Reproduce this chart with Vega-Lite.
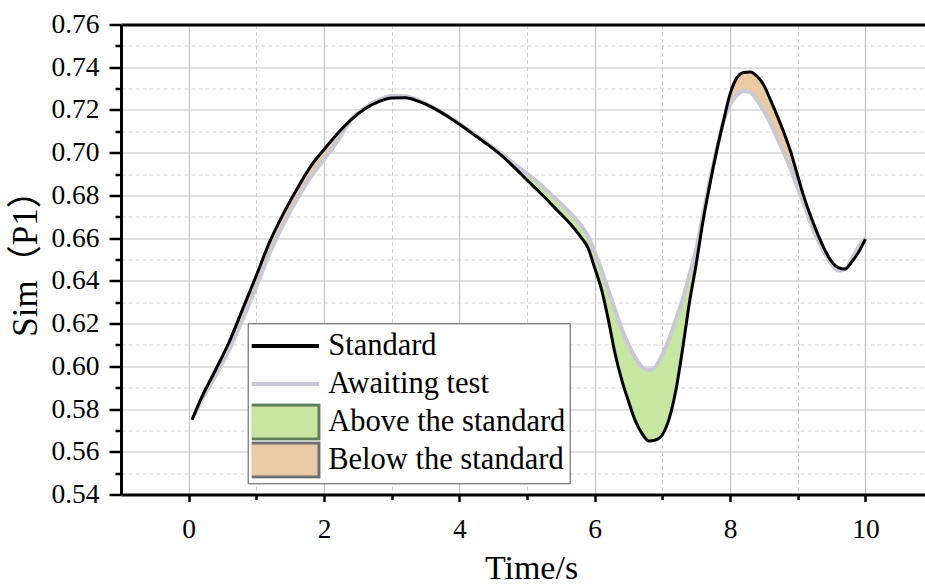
{
  "$schema": "https://vega.github.io/schema/vega-lite/v6.json",
  "width": 804,
  "height": 470,
  "autosize": {"type": "none"},
  "padding": {"left": 121, "top": 24.5, "right": 0, "bottom": 90.5},
  "background": "white",
  "config": {
    "view": {"stroke": null},
    "axis": {
      "labelFont": "Liberation Serif",
      "titleFont": "Liberation Serif",
      "labelColor": "#000",
      "titleColor": "#000",
      "titleFontWeight": "normal",
      "tickColor": "#000",
      "domainColor": "#000",
      "tickWidth": 2.5,
      "domainWidth": 3,
      "labelOverlap": false,
      "labelFlush": false
    },
    "legend": {
      "orient": "none",
      "legendX": 126.7,
      "legendY": 298.8,
      "labelFont": "Liberation Serif",
      "labelFontSize": 30.5,
      "labelColor": "#000",
      "labelLimit": 600,
      "symbolSize": 900,
      "symbolStrokeWidth": 3,
      "symbolOffset": 17.5,
      "labelOffset": 28.5,
      "rowPadding": 0,
      "clipHeight": 37.4,
      "padding": 4,
      "fillColor": "#ffffff",
      "strokeColor": "#555555"
    }
  },
  "data": {
    "values": [
      {"t": 0.05, "Standard": 0.575, "Awaiting test": 0.575, "region": "Below the standard", "seg": "b1"},
      {"t": 0.2, "Standard": 0.586, "Awaiting test": 0.5845, "region": "Below the standard", "seg": "b1"},
      {"t": 0.4, "Standard": 0.5985, "Awaiting test": 0.5958, "region": "Below the standard", "seg": "b1"},
      {"t": 0.6, "Standard": 0.6115, "Awaiting test": 0.6078, "region": "Below the standard", "seg": "b1"},
      {"t": 0.8, "Standard": 0.627, "Awaiting test": 0.6222, "region": "Below the standard", "seg": "b1"},
      {"t": 1.0, "Standard": 0.6425, "Awaiting test": 0.6373, "region": "Below the standard", "seg": "b1"},
      {"t": 1.2, "Standard": 0.6585, "Awaiting test": 0.6532, "region": "Below the standard", "seg": "b1"},
      {"t": 1.4, "Standard": 0.6715, "Awaiting test": 0.6665, "region": "Below the standard", "seg": "b1"},
      {"t": 1.6, "Standard": 0.683, "Awaiting test": 0.6782, "region": "Below the standard", "seg": "b1"},
      {"t": 1.8, "Standard": 0.6935, "Awaiting test": 0.6885, "region": "Below the standard", "seg": "b1"},
      {"t": 2.0, "Standard": 0.7015, "Awaiting test": 0.6968, "region": "Below the standard", "seg": "b1"},
      {"t": 2.2, "Standard": 0.709, "Awaiting test": 0.7055, "region": "Below the standard", "seg": "b1"},
      {"t": 2.4, "Standard": 0.7155, "Awaiting test": 0.7155, "region": "Below the standard", "seg": "b1"},
      {"t": 2.4, "Standard": 0.7155, "Awaiting test": 0.7155, "region": "Above the standard", "seg": "a1", "dup": 1},
      {"t": 2.6, "Standard": 0.7205, "Awaiting test": 0.7208, "region": "Above the standard", "seg": "a1"},
      {"t": 2.8, "Standard": 0.7238, "Awaiting test": 0.7246, "region": "Above the standard", "seg": "a1"},
      {"t": 3.0, "Standard": 0.7256, "Awaiting test": 0.7265, "region": "Above the standard", "seg": "a1"},
      {"t": 3.2, "Standard": 0.7257, "Awaiting test": 0.7264, "region": "Above the standard", "seg": "a1"},
      {"t": 3.4, "Standard": 0.724, "Awaiting test": 0.7245, "region": "Above the standard", "seg": "a1"},
      {"t": 3.6, "Standard": 0.7212, "Awaiting test": 0.7214, "region": "Above the standard", "seg": "a1"},
      {"t": 3.8, "Standard": 0.7175, "Awaiting test": 0.7177, "region": "Above the standard", "seg": "a1"},
      {"t": 4.0, "Standard": 0.7133, "Awaiting test": 0.7136, "region": "Above the standard", "seg": "a1"},
      {"t": 4.2, "Standard": 0.7088, "Awaiting test": 0.7092, "region": "Above the standard", "seg": "a1"},
      {"t": 4.4, "Standard": 0.7042, "Awaiting test": 0.7047, "region": "Above the standard", "seg": "a1"},
      {"t": 4.6, "Standard": 0.6993, "Awaiting test": 0.7, "region": "Above the standard", "seg": "a1"},
      {"t": 4.8, "Standard": 0.6935, "Awaiting test": 0.695, "region": "Above the standard", "seg": "a1"},
      {"t": 5.0, "Standard": 0.6872, "Awaiting test": 0.6902, "region": "Above the standard", "seg": "a1"},
      {"t": 5.2, "Standard": 0.681, "Awaiting test": 0.685, "region": "Above the standard", "seg": "a1"},
      {"t": 5.4, "Standard": 0.6745, "Awaiting test": 0.679, "region": "Above the standard", "seg": "a1"},
      {"t": 5.6, "Standard": 0.668, "Awaiting test": 0.673, "region": "Above the standard", "seg": "a1"},
      {"t": 5.8, "Standard": 0.6603, "Awaiting test": 0.6658, "region": "Above the standard", "seg": "a1"},
      {"t": 5.9, "Standard": 0.6555, "Awaiting test": 0.6612, "region": "Above the standard", "seg": "a1"},
      {"t": 6.0, "Standard": 0.646, "Awaiting test": 0.6535, "region": "Above the standard", "seg": "a1"},
      {"t": 6.1, "Standard": 0.636, "Awaiting test": 0.645, "region": "Above the standard", "seg": "a1"},
      {"t": 6.2, "Standard": 0.622, "Awaiting test": 0.6358, "region": "Above the standard", "seg": "a1"},
      {"t": 6.3, "Standard": 0.606, "Awaiting test": 0.6265, "region": "Above the standard", "seg": "a1"},
      {"t": 6.4, "Standard": 0.5935, "Awaiting test": 0.6175, "region": "Above the standard", "seg": "a1"},
      {"t": 6.5, "Standard": 0.5835, "Awaiting test": 0.61, "region": "Above the standard", "seg": "a1"},
      {"t": 6.6, "Standard": 0.5745, "Awaiting test": 0.604, "region": "Above the standard", "seg": "a1"},
      {"t": 6.7, "Standard": 0.5685, "Awaiting test": 0.5997, "region": "Above the standard", "seg": "a1"},
      {"t": 6.8, "Standard": 0.565, "Awaiting test": 0.5983, "region": "Above the standard", "seg": "a1"},
      {"t": 6.9, "Standard": 0.5655, "Awaiting test": 0.6, "region": "Above the standard", "seg": "a1"},
      {"t": 7.0, "Standard": 0.568, "Awaiting test": 0.6055, "region": "Above the standard", "seg": "a1"},
      {"t": 7.1, "Standard": 0.5755, "Awaiting test": 0.613, "region": "Above the standard", "seg": "a1"},
      {"t": 7.2, "Standard": 0.589, "Awaiting test": 0.622, "region": "Above the standard", "seg": "a1"},
      {"t": 7.3, "Standard": 0.6085, "Awaiting test": 0.6315, "region": "Above the standard", "seg": "a1"},
      {"t": 7.4, "Standard": 0.63, "Awaiting test": 0.643, "region": "Above the standard", "seg": "a1"},
      {"t": 7.5, "Standard": 0.648, "Awaiting test": 0.655, "region": "Above the standard", "seg": "a1"},
      {"t": 7.6, "Standard": 0.668, "Awaiting test": 0.671, "region": "Above the standard", "seg": "a1"},
      {"t": 7.7, "Standard": 0.685, "Awaiting test": 0.687, "region": "Above the standard", "seg": "a1"},
      {"t": 7.8, "Standard": 0.7005, "Awaiting test": 0.7012, "region": "Above the standard", "seg": "a1"},
      {"t": 7.9, "Standard": 0.7145, "Awaiting test": 0.7145, "region": "Above the standard", "seg": "a1"},
      {"t": 7.9, "Standard": 0.7145, "Awaiting test": 0.7145, "region": "Below the standard", "seg": "b2", "dup": 1},
      {"t": 8.0, "Standard": 0.7275, "Awaiting test": 0.7225, "region": "Below the standard", "seg": "b2"},
      {"t": 8.1, "Standard": 0.735, "Awaiting test": 0.727, "region": "Below the standard", "seg": "b2"},
      {"t": 8.2, "Standard": 0.7375, "Awaiting test": 0.7287, "region": "Below the standard", "seg": "b2"},
      {"t": 8.3, "Standard": 0.7378, "Awaiting test": 0.7283, "region": "Below the standard", "seg": "b2"},
      {"t": 8.4, "Standard": 0.7358, "Awaiting test": 0.7245, "region": "Below the standard", "seg": "b2"},
      {"t": 8.5, "Standard": 0.7315, "Awaiting test": 0.7195, "region": "Below the standard", "seg": "b2"},
      {"t": 8.6, "Standard": 0.7245, "Awaiting test": 0.7135, "region": "Below the standard", "seg": "b2"},
      {"t": 8.7, "Standard": 0.717, "Awaiting test": 0.7065, "region": "Below the standard", "seg": "b2"},
      {"t": 8.8, "Standard": 0.709, "Awaiting test": 0.6995, "region": "Below the standard", "seg": "b2"},
      {"t": 8.9, "Standard": 0.7, "Awaiting test": 0.692, "region": "Below the standard", "seg": "b2"},
      {"t": 9.0, "Standard": 0.689, "Awaiting test": 0.6835, "region": "Below the standard", "seg": "b2"},
      {"t": 9.1, "Standard": 0.6785, "Awaiting test": 0.675, "region": "Below the standard", "seg": "b2"},
      {"t": 9.2, "Standard": 0.6695, "Awaiting test": 0.666, "region": "Below the standard", "seg": "b2"},
      {"t": 9.3, "Standard": 0.6615, "Awaiting test": 0.659, "region": "Below the standard", "seg": "b2"},
      {"t": 9.4, "Standard": 0.6545, "Awaiting test": 0.6528, "region": "Below the standard", "seg": "b2"},
      {"t": 9.5, "Standard": 0.649, "Awaiting test": 0.6478, "region": "Below the standard", "seg": "b2"},
      {"t": 9.6, "Standard": 0.6462, "Awaiting test": 0.6448, "region": "Below the standard", "seg": "b2"},
      {"t": 9.7, "Standard": 0.6455, "Awaiting test": 0.6455, "region": "Below the standard", "seg": "b2"},
      {"t": 9.7, "Standard": 0.6455, "Awaiting test": 0.6455, "region": "Above the standard", "seg": "a2", "dup": 1},
      {"t": 9.8, "Standard": 0.649, "Awaiting test": 0.6505, "region": "Above the standard", "seg": "a2"},
      {"t": 9.9, "Standard": 0.6535, "Awaiting test": 0.656, "region": "Above the standard", "seg": "a2"},
      {"t": 10.0, "Standard": 0.6595, "Awaiting test": 0.66, "region": "Above the standard", "seg": "a2"}
    ]
  },
  "resolve": {"axis": {"x": "independent", "y": "independent"}},
  "layer": [
    {
      "mark": {"type": "area", "interpolate": "monotone", "opacity": 1},
      "encoding": {
        "x": {
          "field": "t", "type": "quantitative",
          "scale": {"domain": [-1, 10.88], "nice": false, "zero": false},
          "axis": {"orient": "bottom", "values": [1, 3, 5, 7, 9], "labels": false, "title": null, "domain": false, "tickSize": 5, "grid": true, "gridColor": "#cfcfcf", "gridDash": [4, 3], "gridWidth": 1}
        },
        "y": {
          "field": "Standard", "type": "quantitative", "stack": null,
          "scale": {"domain": [0.54, 0.76], "nice": false, "zero": false},
          "axis": {"orient": "left", "values": [0.55, 0.57, 0.59, 0.61, 0.63, 0.65, 0.67, 0.69, 0.71, 0.73, 0.75], "labels": false, "title": null, "domain": false, "tickSize": 6, "grid": true, "gridColor": "#cfcfcf", "gridDash": [4, 3], "gridWidth": 1}
        },
        "y2": {"field": "Awaiting test"},
        "detail": {"field": "seg"},
        "fill": {
          "field": "region", "type": "nominal",
          "scale": {"domain": ["Above the standard", "Below the standard"], "range": ["#c6e6a2", "#e8caa4"]},
          "legend": null
        }
      }
    },
    {
      "transform": [{"filter": "!datum.dup"}],
      "mark": {"type": "line", "interpolate": "monotone", "strokeWidth": 4},
      "encoding": {
        "x": {
          "field": "t", "type": "quantitative",
          "axis": {"orient": "bottom", "values": [0, 2, 4, 6, 8, 10], "format": "d", "labelFontSize": 27.5, "labelBaseline": "alphabetic", "labelPadding": 36, "tickSize": 7, "grid": true, "gridColor": "#c2c2c2", "gridWidth": 1.2, "title": "Time/s", "titleFontSize": 34, "titleX": 410, "titleY": 84, "titleBaseline": "alphabetic", "titleAlign": "center"}
        },
        "y": {
          "field": "Awaiting test", "type": "quantitative",
          "axis": {"orient": "left", "values": [0.54, 0.56, 0.58, 0.6, 0.62, 0.64, 0.66, 0.68, 0.7, 0.72, 0.74, 0.76], "format": ".2f", "labelFontSize": 27.5, "labelPadding": 10, "tickSize": 12, "grid": true, "gridColor": "#c2c2c2", "gridWidth": 1.2, "title": "Sim（P1）", "titleFont": "Liberation Serif, Noto Sans CJK SC", "titleFontSize": 35, "titleX": -96, "titleY": 230, "titleAngle": -90, "titleBaseline": "middle", "titleAlign": "center"}
        },
        "stroke": {
          "datum": "Awaiting test",
          "scale": {
            "domain": ["Standard", "Awaiting test", "Above the standard", "Below the standard"],
            "range": ["#000000", "#c8c8d6", "#5e7d58", "#6f6f6f"]
          },
          "legend": {
            "title": null,
            "encoding": {
              "symbols": {
                "shape": {"value": {"signal": "datum.value === 'Standard' || datum.value === 'Awaiting test' ? 'M-2.3,-1.13M-2.3,0H2.3M2.3,1.13' : 'M-2.3,-1.13H2.3V1.13H-2.3Z'"}},
                "fill": {"value": {"signal": "datum.value === 'Above the standard' ? '#c6e6a2' : datum.value === 'Below the standard' ? '#e8caa4' : 'transparent'"}},
                "strokeWidth": {"value": {"signal": "datum.value === 'Standard' || datum.value === 'Awaiting test' ? 4 : 3"}},
                "opacity": {"value": 1},
                "fillOpacity": {"value": 1},
                "strokeOpacity": {"value": 1}
              }
            }
          }
        }
      }
    },
    {
      "transform": [{"filter": "!datum.dup"}],
      "mark": {"type": "line", "interpolate": "monotone", "strokeWidth": 3},
      "encoding": {
        "x": {
          "field": "t", "type": "quantitative",
          "axis": {"orient": "top", "labels": false, "ticks": false, "grid": false, "title": null, "domain": true, "domainWidth": 3}
        },
        "y": {"field": "Standard", "type": "quantitative", "axis": null},
        "stroke": {
          "datum": "Standard",
          "legend": {
            "title": null,
            "encoding": {
              "symbols": {
                "shape": {"value": {"signal": "datum.value === 'Standard' || datum.value === 'Awaiting test' ? 'M-2.3,-1.13M-2.3,0H2.3M2.3,1.13' : 'M-2.3,-1.13H2.3V1.13H-2.3Z'"}},
                "fill": {"value": {"signal": "datum.value === 'Above the standard' ? '#c6e6a2' : datum.value === 'Below the standard' ? '#e8caa4' : 'transparent'"}},
                "strokeWidth": {"value": {"signal": "datum.value === 'Standard' || datum.value === 'Awaiting test' ? 4 : 3"}},
                "opacity": {"value": 1},
                "fillOpacity": {"value": 1},
                "strokeOpacity": {"value": 1}
              }
            }
          }
        }
      }
    }
  ]
}
